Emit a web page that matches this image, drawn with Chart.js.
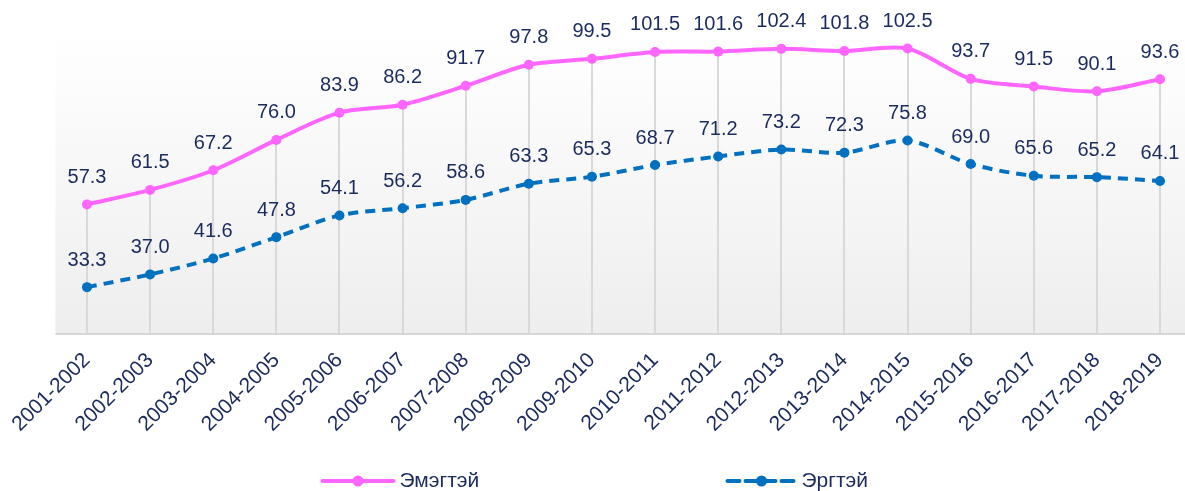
<!DOCTYPE html>
<html><head><meta charset="utf-8">
<script src="https://cdn.jsdelivr.net/npm/chart.js@4.4.1/dist/chart.umd.min.js"></script>
<style>html,body{margin:0;padding:0;background:#fff;}#wrap{width:1185px;height:491px;position:relative;}</style>
</head><body><div id="wrap"><canvas id="c" width="1185" height="491"></canvas></div>
<script>
const categories = ["2001-2002","2002-2003","2003-2004","2004-2005","2005-2006","2006-2007","2007-2008","2008-2009","2009-2010","2010-2011","2011-2012","2012-2013","2013-2014","2014-2015","2015-2016","2016-2017","2017-2018","2018-2019"];
const women = [57.3,61.5,67.2,76.0,83.9,86.2,91.7,97.8,99.5,101.5,101.6,102.4,101.8,102.5,93.7,91.5,90.1,93.6];
const men = [33.3,37.0,41.6,47.8,54.1,56.2,58.6,63.3,65.3,68.7,71.2,73.2,72.3,75.8,69.0,65.6,65.2,64.1];
const seriesNames = ["Эмэгтэй","Эргтэй"];
const PINK = "#ff66ff", BLUE = "#0070c0", TEXT = "#1b2b5e";
const FONT = "'Liberation Sans', Arial, sans-serif";

const bgPlugin = {
  id: 'bg',
  beforeDraw(chart) {
    const {ctx, chartArea: a} = chart;
    const step = (a.right - a.left) / (categories.length - 1);
    const x0 = a.left - step / 2, x1 = chart.width;
    const g = ctx.createLinearGradient(0, a.top, 0, a.bottom);
    g.addColorStop(0, '#ffffff');
    g.addColorStop(1, '#eeeeee');
    ctx.save();
    ctx.fillStyle = g;
    ctx.fillRect(x0, a.top, x1 - x0, a.bottom - a.top);
    ctx.fillStyle = '#d6d6d6';
    ctx.fillRect(x0, a.bottom, x1 - x0, 2);
    ctx.restore();
  },
  beforeDatasetsDraw(chart) {
    const {ctx, chartArea: a} = chart;
    const meta = chart.getDatasetMeta(0);
    ctx.save();
    ctx.strokeStyle = '#d9d9d9';
    ctx.lineWidth = 2;
    meta.data.forEach(p => {
      ctx.beginPath();
      ctx.moveTo(Math.round(p.x), p.y);
      ctx.lineTo(Math.round(p.x), a.bottom);
      ctx.stroke();
    });
    ctx.restore();
  },
  afterDatasetsDraw(chart) {
    const {ctx} = chart;
    ctx.save();
    ctx.font = "20px " + FONT;
    ctx.fillStyle = TEXT;
    ctx.textAlign = 'center';
    ctx.textBaseline = 'middle';
    chart.data.datasets.forEach((ds, i) => {
      chart.getDatasetMeta(i).data.forEach((p, j) => {
        ctx.fillText(ds.data[j].toFixed(1), p.x, p.y - 27);
      });
    });
    ctx.restore();
  },
  afterDraw(chart) {
    const {ctx} = chart;
    const cx = chart.width / 2;
    const y = 481;
    const items = [
      {x: cx - 270, color: PINK, dash: [], len: 71},
      {x: cx + 135, color: BLUE, dash: [12, 6], len: 68}
    ];
    ctx.save();
    items.forEach((it, i) => {
      ctx.strokeStyle = it.color;
      ctx.lineWidth = 4;
      ctx.lineCap = 'round';
      ctx.setLineDash(it.dash);
      ctx.beginPath();
      ctx.moveTo(it.x, y);
      ctx.lineTo(it.x + it.len, y);
      ctx.stroke();
      ctx.setLineDash([]);
      ctx.fillStyle = it.color;
      ctx.beginPath();
      ctx.arc(it.x + it.len / 2, y, 5.5, 0, Math.PI * 2);
      ctx.fill();
      ctx.fillStyle = TEXT;
      ctx.font = "21px " + FONT;
      ctx.textBaseline = 'middle';
      ctx.textAlign = 'left';
      ctx.fillText(seriesNames[i], it.x + it.len + 6, y);
    });
    ctx.restore();
  }
};

new Chart(document.getElementById('c'), {
  type: 'line',
  data: {
    labels: categories,
    datasets: [
      {label: seriesNames[0], data: women, borderColor: PINK, backgroundColor: PINK,
       borderWidth: 4, pointRadius: 5, pointHoverRadius: 5, pointBorderWidth: 0, tension: 0.3},
      {label: seriesNames[1], data: men, borderColor: BLUE, backgroundColor: BLUE,
       borderWidth: 4, borderDash: [10, 7], pointRadius: 5, pointHoverRadius: 5, pointBorderWidth: 0, tension: 0.3}
    ]
  },
  options: {
    responsive: false,
    animation: false,
    layout: {padding: {left: 87, right: 25, top: 33, bottom: 0}},
    plugins: {legend: {display: false}, tooltip: {enabled: false}},
    scales: {
      x: {
        offset: false,
        grid: {display: false, drawTicks: false},
        border: {display: false},
        ticks: {minRotation: 45, maxRotation: 45, autoSkip: false, padding: 15,
                color: TEXT, font: {family: FONT, size: 21}},
        afterFit(s) { s.height = 158; s.paddingLeft = 0; s.paddingRight = 0; }
      },
      y: {
        display: false, min: 20, max: 107
      }
    }
  },
  plugins: [bgPlugin]
});
</script></body></html>
